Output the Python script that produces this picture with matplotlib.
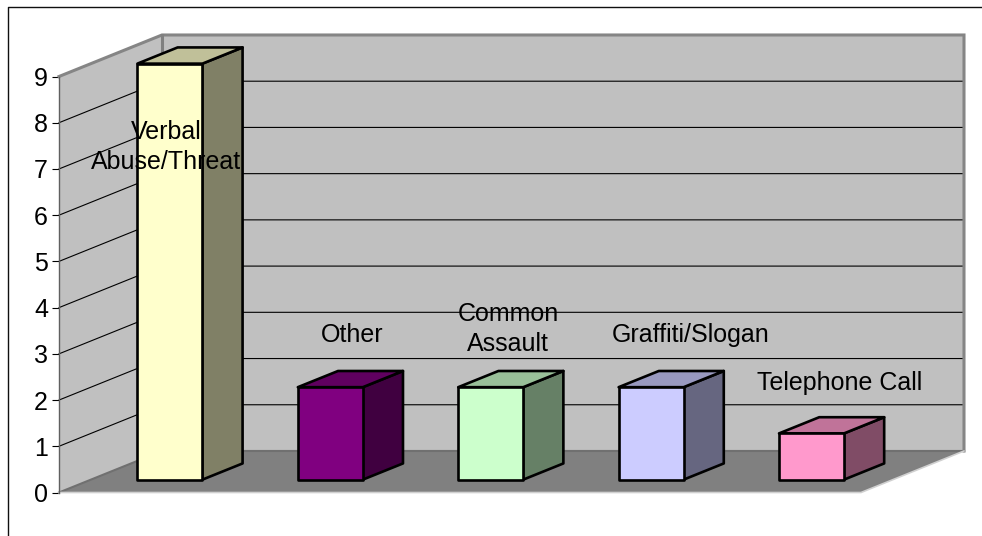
import matplotlib
matplotlib.use('Agg')
import matplotlib.pyplot as plt
from matplotlib.patches import Polygon
from matplotlib.lines import Line2D

categories = ['Verbal\nAbuse/Threat', 'Other', 'Common\nAssault', 'Graffiti/Slogan', 'Telephone Call']
values = [9, 2, 2, 2, 1]
yticks = [0, 1, 2, 3, 4, 5, 6, 7, 8, 9]

front_colors = ['#FFFFCC', '#800080', '#CCFFCC', '#CCCCFF', '#FF99CC']
top_colors = ['#C0C099', '#600060', '#99C099', '#9999C0', '#C07399']
side_colors = ['#808066', '#400040', '#668066', '#666680', '#804C66']

W, H = 982, 536
plt.rcParams['font.family'] = ['Liberation Sans', 'DejaVu Sans']

fig = plt.figure(figsize=(W/100, H/100), dpi=100, facecolor='white')
# front plane of the 3D box, in pixels: x 59..861, y 492.5..76.5
ax = fig.add_axes([59/W, 1 - 492.5/H, 802/W, 416/H], facecolor='none')
ax.set_xlim(0, len(categories))
ax.set_ylim(0, yticks[-1])

DX = 103/160.4  # shift in category units for full depth
DY = 41.5/46.2  # shift in value units for full depth

def proj(x, y, d=0):
    return (x + d*DX, y + d*DY)

def poly(points, color, edge='none', lw=0, z=1):
    ax.add_patch(Polygon(points, closed=True, facecolor=color, edgecolor=edge, linewidth=lw,
                         zorder=z, clip_on=False, joinstyle='round'))

def path(points, color, lw, z=2):
    ax.plot([p[0] for p in points], [p[1] for p in points], color=color, lw=lw, zorder=z,
            clip_on=False, solid_joinstyle='miter')

n = len(categories)
top = yticks[-1]

# walls and floor
poly([proj(0, 0, 0), proj(0, 0, 1), proj(0, top, 1), proj(0, top, 0)], '#C0C0C0', z=1)
poly([proj(0, 0, 1), proj(n, 0, 1), proj(n, top, 1), proj(0, top, 1)], '#C0C0C0', z=1)
poly([proj(0, 0, 0), proj(n, 0, 0), proj(n, 0, 1), proj(0, 0, 1)], '#808080', z=1)

# grid
for v in yticks[1:-1]:
    path([proj(0, v, 0), proj(0, v, 1), proj(n, v, 1)], 'black', 0.8)

# wall edges
path([proj(0, top, 0), proj(0, top, 1), proj(n, top, 1), proj(n, 0, 1)], '#858585', 2.2)
path([proj(0, 0, 1), proj(0, top, 1)], '#808080', 2.2)
path([proj(0, 0, 0), proj(0, 0, 1), proj(n, 0, 1)], '#707070', 1.5)
path([proj(0, 0, 0), proj(n, 0, 0), proj(n, 0, 1)], '#D0D0D0', 1.2)

# bars
gap = 0.29
bw = 0.405
d0 = 0.31
d1 = 0.70
for i in range(n):
    x0 = i + gap
    x1 = x0 + bw
    v = values[i]
    poly([proj(x1, 0, d0), proj(x1, 0, d1), proj(x1, v, d1), proj(x1, v, d0)], side_colors[i], 'black', 1.9, 3)
    poly([proj(x0, v, d0), proj(x1, v, d0), proj(x1, v, d1), proj(x0, v, d1)], top_colors[i], 'black', 1.9, 3)
    poly([proj(x0, 0, d0), proj(x1, 0, d0), proj(x1, v, d0), proj(x0, v, d0)], front_colors[i], 'black', 1.9, 3)

# value axis
for s in ['top', 'right', 'bottom']:
    ax.spines[s].set_visible(False)
ax.spines['left'].set_color('#606060')
ax.spines['left'].set_linewidth(1.0)
ax.spines['left'].set_zorder(4)
ax.set_xticks([])
ax.set_yticks(yticks)
ax.tick_params(axis='y', length=5, width=0.8, color='black', labelsize=18, pad=3)

# data labels, where the original placed them (pixels)
label_x = [166, 352, 508, 691, 840]
label_y = [147, 335, 329, 335, 383]
for i in range(n):
    fig.text(label_x[i]/W, 1 - label_y[i]/H, categories[i], fontsize=18, color='black',
             ha='center', va='center', linespacing=1.3, zorder=10)

# chart frame, right and bottom sides fall outside the image
fig.add_artist(Line2D([8/W, 8/W, 1], [0, 1 - 6.5/H, 1 - 6.5/H], color='#101010', lw=1.0))

fig.savefig('out.png', dpi=100, facecolor='white')
